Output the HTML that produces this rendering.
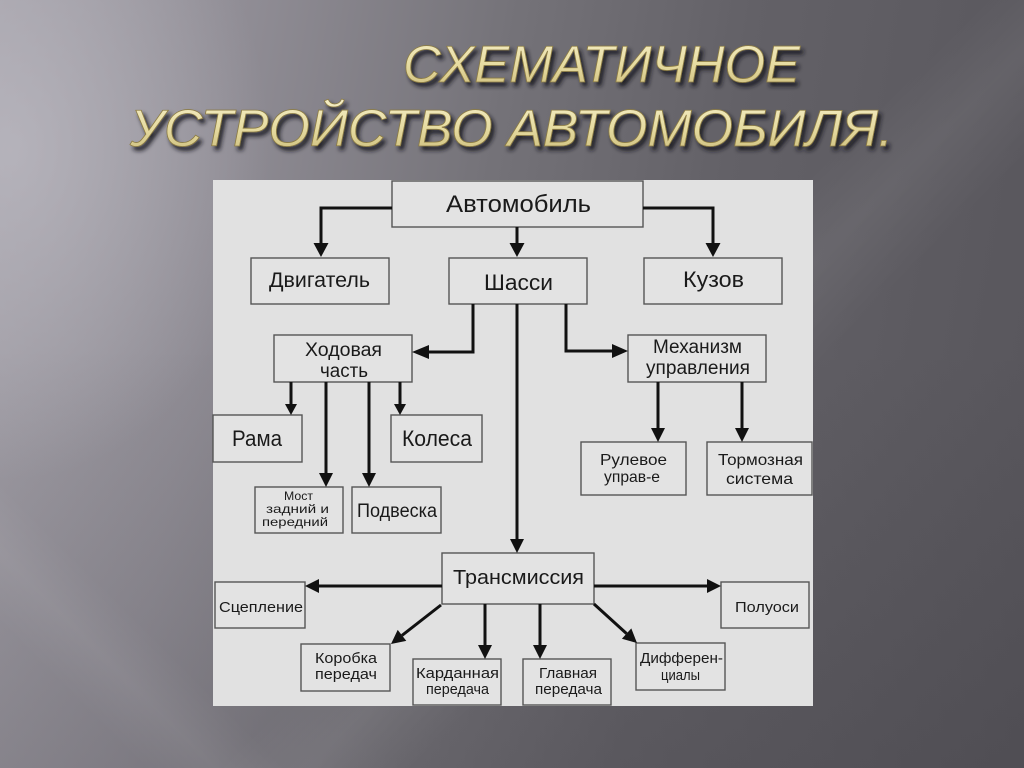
<!DOCTYPE html>
<html>
<head>
<meta charset="utf-8">
<style>
  html,body{margin:0;padding:0;}
  body{
    width:1024px;height:768px;overflow:hidden;position:relative;
    background:
      radial-gradient(ellipse 260px 330px at 10px 150px, rgba(192,190,198,0.65), rgba(192,190,198,0) 100%),
      linear-gradient(135deg, rgba(255,255,255,0) 55%, rgba(255,255,255,0.06) 60%, rgba(255,255,255,0) 66%),
      linear-gradient(45deg, rgba(255,255,255,0) 8%, rgba(255,255,255,0.06) 12%, rgba(255,255,255,0) 16%),
      linear-gradient(to bottom, rgba(40,38,44,0) 45%, rgba(40,38,44,0.16) 100%),
      linear-gradient(100deg, #a3a0a8 0%, #8f8c94 22%, #747278 45%, #636167 65%, #5c5a60 85%, #57555b 100%);
  }
  svg{position:absolute;left:0;top:0;}
  .t{font-family:"Liberation Sans","DejaVu Sans",sans-serif;fill:#1a1a1a;}
  .b{fill:#e3e3e3;stroke:#555;stroke-width:1.4;}
  .l{fill:none;stroke:#111;stroke-width:3;}
  .h{fill:#111;}
</style>
</head>
<body>
<svg width="1024" height="768" viewBox="0 0 1024 768" xmlns="http://www.w3.org/2000/svg">
  <defs>
    <linearGradient id="gold" x1="0" y1="0" x2="0" y2="1">
      <stop offset="0" stop-color="#f5eec6"/>
      <stop offset="0.5" stop-color="#e6dba0"/>
      <stop offset="1" stop-color="#c9b977"/>
    </linearGradient>
    <filter id="sh" x="-10%" y="-30%" width="120%" height="160%">
      <feDropShadow dx="3" dy="4" stdDeviation="2" flood-color="#18171c" flood-opacity="0.9"/>
    </filter>
  </defs>

  <!-- Title -->
  <g filter="url(#sh)" style="font-family:'Liberation Sans','DejaVu Sans',sans-serif;font-style:italic;font-size:52px;" fill="url(#gold)" stroke="#8c7c45" stroke-width="0.8">
    <text x="403" y="82" textLength="397" lengthAdjust="spacingAndGlyphs">СХЕМАТИЧНОЕ</text>
    <text x="130" y="146" textLength="763" lengthAdjust="spacingAndGlyphs">УСТРОЙСТВО АВТОМОБИЛЯ.</text>
  </g>

  <!-- Panel -->
  <rect x="213" y="180" width="600" height="526" fill="#e1e1e1"/>

  <!-- Boxes -->
  <rect class="b" x="392" y="181" width="251" height="46"/>
  <rect class="b" x="251" y="258" width="138" height="46"/>
  <rect class="b" x="449" y="258" width="138" height="46"/>
  <rect class="b" x="644" y="258" width="138" height="46"/>
  <rect class="b" x="274" y="335" width="138" height="47"/>
  <rect class="b" x="628" y="335" width="138" height="47"/>
  <rect class="b" x="213" y="415" width="89" height="47"/>
  <rect class="b" x="391" y="415" width="91" height="47"/>
  <rect class="b" x="255" y="487" width="88" height="46"/>
  <rect class="b" x="352" y="487" width="89" height="46"/>
  <rect class="b" x="581" y="442" width="105" height="53"/>
  <rect class="b" x="707" y="442" width="105" height="53"/>
  <rect class="b" x="442" y="553" width="152" height="51"/>
  <rect class="b" x="215" y="582" width="90" height="46"/>
  <rect class="b" x="721" y="582" width="88" height="46"/>
  <rect class="b" x="301" y="644" width="89" height="47"/>
  <rect class="b" x="413" y="659" width="88" height="46"/>
  <rect class="b" x="523" y="659" width="88" height="46"/>
  <rect class="b" x="636" y="643" width="89" height="47"/>

  <!-- Connectors -->
  <path class="l" d="M392,208 H321 V243"/>
  <polygon class="h" points="313.5,243 328.5,243 321,257"/>
  <path class="l" d="M517,227 V243"/>
  <polygon class="h" points="509.5,243 524.5,243 517,257"/>
  <path class="l" d="M643,208 H713 V243"/>
  <polygon class="h" points="705.5,243 720.5,243 713,257"/>

  <path class="l" d="M473,304 V352 H429"/>
  <polygon class="h" points="429,345 429,359 412,352"/>
  <path class="l" d="M517,304 V539"/>
  <polygon class="h" points="510,539 524,539 517,553"/>
  <path class="l" d="M566,304 V351 H612"/>
  <polygon class="h" points="612,344 612,358 628,351"/>

  <path class="l" d="M291,382 V404"/>
  <polygon class="h" points="285,404 297,404 291,415"/>
  <path class="l" d="M326,382 V473"/>
  <polygon class="h" points="319,473 333,473 326,487"/>
  <path class="l" d="M369,382 V473"/>
  <polygon class="h" points="362,473 376,473 369,487"/>
  <path class="l" d="M400,382 V404"/>
  <polygon class="h" points="394,404 406,404 400,415"/>

  <path class="l" d="M658,382 V428"/>
  <polygon class="h" points="651,428 665,428 658,442"/>
  <path class="l" d="M742,382 V428"/>
  <polygon class="h" points="735,428 749,428 742,442"/>

  <path class="l" d="M442,586 H319"/>
  <polygon class="h" points="319,579 319,593 305,586"/>
  <path class="l" d="M594,586 H707"/>
  <polygon class="h" points="707,579 707,593 721,586"/>

  <path class="l" d="M441,605 L402,635.4"/>
  <polygon class="h" points="406.3,640.9 397.7,629.9 391,644"/>
  <path class="l" d="M485,604 V645"/>
  <polygon class="h" points="478,645 492,645 485,659"/>
  <path class="l" d="M540,604 V645"/>
  <polygon class="h" points="533,645 547,645 540,659"/>
  <path class="l" d="M594,604 L626.6,633.6"/>
  <polygon class="h" points="621.9,638.8 631.3,628.4 637,643"/>

  <!-- Labels -->
  <text class="t" x="446" y="212" font-size="24" textLength="145" lengthAdjust="spacingAndGlyphs">Автомобиль</text>
  <text class="t" x="269" y="287" font-size="21" textLength="101" lengthAdjust="spacingAndGlyphs">Двигатель</text>
  <text class="t" x="484" y="290" font-size="22" textLength="69" lengthAdjust="spacingAndGlyphs">Шасси</text>
  <text class="t" x="683" y="287" font-size="22" textLength="61" lengthAdjust="spacingAndGlyphs">Кузов</text>

  <text class="t" x="305" y="356" font-size="19" textLength="77" lengthAdjust="spacingAndGlyphs">Ходовая</text>
  <text class="t" x="320" y="377" font-size="19" textLength="48" lengthAdjust="spacingAndGlyphs">часть</text>
  <text class="t" x="653" y="353" font-size="19" textLength="89" lengthAdjust="spacingAndGlyphs">Механизм</text>
  <text class="t" x="646" y="374" font-size="19" textLength="104" lengthAdjust="spacingAndGlyphs">управления</text>

  <text class="t" x="232" y="446" font-size="22" textLength="50" lengthAdjust="spacingAndGlyphs">Рама</text>
  <text class="t" x="402" y="446" font-size="22" textLength="70" lengthAdjust="spacingAndGlyphs">Колеса</text>

  <text class="t" x="284" y="500" font-size="11.5" textLength="29" lengthAdjust="spacingAndGlyphs">Мост</text>
  <text class="t" x="266" y="513" font-size="12" textLength="63" lengthAdjust="spacingAndGlyphs">задний и</text>
  <text class="t" x="262" y="526" font-size="12" textLength="66" lengthAdjust="spacingAndGlyphs">передний</text>
  <text class="t" x="357" y="517" font-size="19" textLength="80" lengthAdjust="spacingAndGlyphs">Подвеска</text>

  <text class="t" x="600" y="465" font-size="16" textLength="67" lengthAdjust="spacingAndGlyphs">Рулевое</text>
  <text class="t" x="604" y="482" font-size="16" textLength="56" lengthAdjust="spacingAndGlyphs">управ-е</text>
  <text class="t" x="718" y="465" font-size="16" textLength="85" lengthAdjust="spacingAndGlyphs">Тормозная</text>
  <text class="t" x="726" y="484" font-size="16" textLength="67" lengthAdjust="spacingAndGlyphs">система</text>

  <text class="t" x="453" y="584" font-size="20" textLength="131" lengthAdjust="spacingAndGlyphs">Трансмиссия</text>
  <text class="t" x="219" y="612" font-size="15" textLength="84" lengthAdjust="spacingAndGlyphs">Сцепление</text>
  <text class="t" x="735" y="612" font-size="15" textLength="64" lengthAdjust="spacingAndGlyphs">Полуоси</text>

  <text class="t" x="315" y="663" font-size="15" textLength="62" lengthAdjust="spacingAndGlyphs">Коробка</text>
  <text class="t" x="315" y="679" font-size="15" textLength="62" lengthAdjust="spacingAndGlyphs">передач</text>
  <text class="t" x="416" y="678" font-size="15" textLength="83" lengthAdjust="spacingAndGlyphs">Карданная</text>
  <text class="t" x="426" y="694" font-size="15" textLength="63" lengthAdjust="spacingAndGlyphs">передача</text>
  <text class="t" x="539" y="678" font-size="15" textLength="58" lengthAdjust="spacingAndGlyphs">Главная</text>
  <text class="t" x="535" y="694" font-size="15" textLength="67" lengthAdjust="spacingAndGlyphs">передача</text>
  <text class="t" x="640" y="663" font-size="15" textLength="83" lengthAdjust="spacingAndGlyphs">Дифферен-</text>
  <text class="t" x="661" y="680" font-size="15" textLength="39" lengthAdjust="spacingAndGlyphs">циалы</text>
</svg>
</body>
</html>
